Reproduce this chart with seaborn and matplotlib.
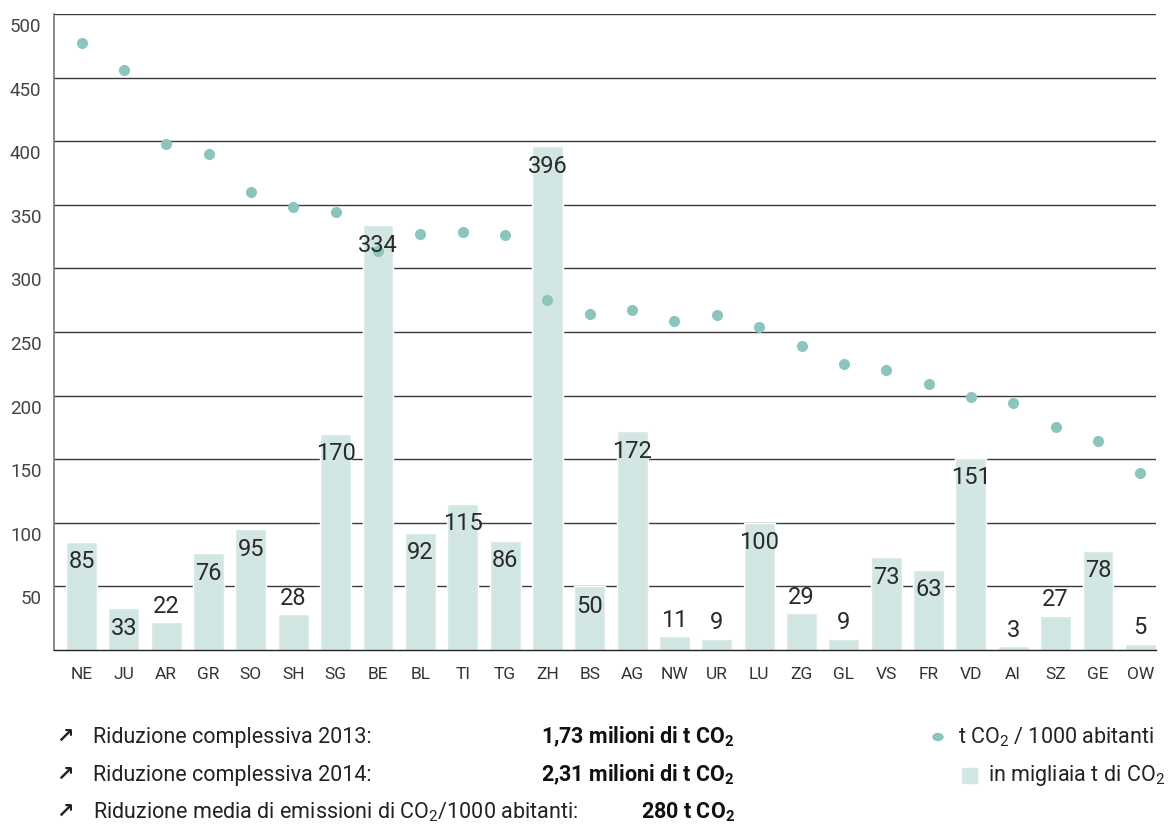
import matplotlib
matplotlib.use("Agg")
import matplotlib.pyplot as plt
from matplotlib.transforms import ScaledTranslation
import seaborn as sns
import pandas as pd

# Cantons, ordered by emissions per 1000 inhabitants
cantons = ["NE", "JU", "AR", "GR", "SO", "SH", "SG", "BE", "BL", "TI", "TG", "ZH", "BS",
           "AG", "NW", "UR", "LU", "ZG", "GL", "VS", "FR", "VD", "AI", "SZ", "GE", "OW"]
# Reduction, thousand t CO2
reduction_kt = [85, 33, 22, 76, 95, 28, 170, 334, 92, 115, 86, 396, 50,
                172, 11, 9, 100, 29, 9, 73, 63, 151, 3, 27, 78, 5]
# Reduction, t CO2 per 1000 inhabitants
per_1000 = [477, 456, 398, 390, 360, 348, 344, 314, 327, 329, 326, 275, 264,
            267, 259, 263, 254, 239, 225, 220, 209, 199, 194, 175, 164, 139]
y_ticks = [50, 100, 150, 200, 250, 300, 350, 400, 450, 500]

summary_labels = ["Riduzione complessiva 2013:",
                  "Riduzione complessiva 2014:",
                  "Riduzione media di emissioni di CO$_2$/1000 abitanti:"]
summary_values = ["1,73 milioni di t CO$_2$",
                  "2,31 milioni di t CO$_2$",
                  "280 t CO$_2$"]
legend_labels = ["t CO$_2$ / 1000 abitanti", "in migliaia t di CO$_2$"]

BAR = "#d2e7e4"
DOT = "#8cc5bd"
TXT = "#222222"

sns.set_theme(style="white")
plt.rcParams["font.family"] = ["Roboto", "DejaVu Sans"]
plt.rcParams["mathtext.default"] = "regular"

df = pd.DataFrame({"canton": cantons, "kt": reduction_kt, "per1000": per_1000})

fig = plt.figure(figsize=(11.7, 8.24), dpi=100)
ax = fig.add_axes([54 / 1170, 1 - 650 / 824, 1102 / 1170, 636 / 824])

sns.barplot(data=df, x="canton", y="kt", color=BAR, saturation=1, width=0.73,
            ax=ax, zorder=2)
sns.stripplot(data=df, x="canton", y="per1000", color=DOT, size=8, jitter=False,
              linewidth=0, ax=ax, zorder=3)

ax.set_xlim(-0.65, 25.37)
ax.set_ylim(0, 500)
ax.set_xlabel("")
ax.set_ylabel("")

# horizontal grid
ax.set_yticks(y_ticks)
ax.set_yticklabels([str(v) for v in y_ticks])
ax.set_axisbelow(True)
ax.yaxis.grid(True, color="#3a3a3a", linewidth=1.0)
ax.tick_params(axis="y", length=0, pad=9, labelsize=13.5, labelcolor="#444444")
offset = ScaledTranslation(0, -11 / 100, fig.dpi_scale_trans)
for lab in ax.get_yticklabels():
    lab.set_transform(lab.get_transform() + offset)
ax.tick_params(axis="x", length=0, pad=12, labelsize=12.5, labelcolor="#333333")

for side in ["top", "right"]:
    ax.spines[side].set_visible(False)
ax.spines["left"].set_color("#777777")
ax.spines["left"].set_linewidth(1.2)
ax.spines["bottom"].set_color("#222222")
ax.spines["bottom"].set_linewidth(1.0)

# value labels: inside tall bars, above short ones
px = 500 / 636
for i, v in enumerate(reduction_kt):
    if v >= 30:
        y = v - 20 * px
    else:
        y = v + 16 * px
    ax.text(i, y, str(v), ha="center", va="center", fontsize=17,
            color="#2a2a2a", zorder=4)

# summary lines below the chart
rows_y = [737, 775, 812]
for ry, lab, val in zip(rows_y, summary_labels, summary_values):
    fy = 1 - ry / 824
    fig.text(65 / 1170, fy, "↗", ha="center", va="center", fontsize=15,
             color=TXT, fontweight="bold", family=["DejaVu Sans"])
    fig.text(93 / 1170, fy, lab, ha="left", va="center", fontsize=15.5,
             color=TXT)
    fig.text(735 / 1170, fy, val, ha="right", va="center", fontsize=15.5,
             color="#111111", fontweight="bold")

# legend
fig.patches.append(plt.Circle((938 / 1170, 1 - 737 / 824), 5 / 1170,
                              transform=fig.transFigure, color=DOT, figure=fig))
fig.text(958 / 1170, 1 - 737 / 824, legend_labels[0], ha="left", va="center",
         fontsize=15.5, color=TXT)
fig.patches.append(plt.Rectangle((962 / 1170, 1 - 783 / 824), 15 / 1170, 15 / 824,
                                 transform=fig.transFigure, color=BAR, figure=fig))
fig.text(988 / 1170, 1 - 775 / 824, legend_labels[1], ha="left", va="center",
         fontsize=15.5, color=TXT)

fig.savefig("out.png", dpi=100, facecolor="white")
